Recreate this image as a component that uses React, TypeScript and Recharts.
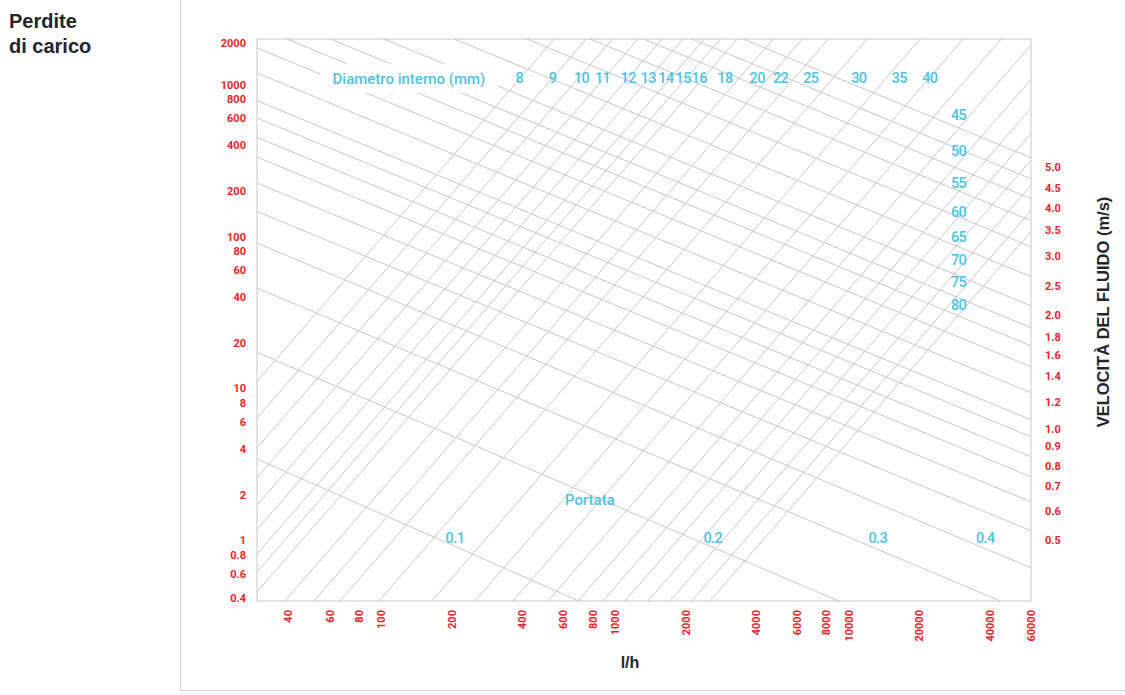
import React from 'react';
import { ComposedChart, Line, Scatter, XAxis, YAxis, ReferenceArea } from 'recharts';

const RED = '#e8232b';
const CYAN = '#4ec3df';
const GRID = '#c6c6c6';
const INK = '#23242e';

const Q_MIN = 29.3;
const Q_MAX = 60000;
const P_MIN = 0.4;
const P_MAX = 2000;

const flowTicks = [40, 60, 80, 100, 200, 400, 600, 800, 1000, 2000, 4000, 6000, 8000, 10000, 20000, 40000, 60000];
const lossTicks = [0.4, 0.6, 0.8, 1, 2, 4, 6, 8, 10, 20, 40, 60, 80, 100, 200, 400, 600, 800, 1000, 2000];

// diameter lines (mm): l/h where each crosses the bottom (0.4) and the top (2000) of the grid
const diameters = ['8', '9', '10', '11', '12', '13', '14', '15', '16', '18', '20', '22', '25', '30', '35', '40', '45', '50', '55', '60', '65', '70', '75', '80'];
const diamQAtBottom = [4.47, 6.12, 7.91, 10.2, 12.9, 15.9, 19.6, 22.9, 27.1, 38.6, 51.4, 66.4, 97.4, 164, 251, 365, 515, 692, 885, 1099, 1378, 1712, 2126, 2538];
const diamQAtTop = [548, 751, 971, 1252, 1583, 1951, 2405, 2810, 3323, 4736, 6307, 8147, 11950, 20120, 30780, 44760, 63150, 84870, 108550, 134800, 169100, 210100, 260900, 311400];
// where the diameter numbers sit
const diamLabelQ = [388, 539, 717, 882, 1135, 1382, 1646, 1952, 2284, 2942, 4045, 5092, 6862, 11010, 16370, 22150, 29390, 29390, 29390, 29390, 29390, 29390, 29390, 29390];
const diamLabelP = [1117, 1117, 1117, 1117, 1117, 1117, 1117, 1117, 1117, 1117, 1117, 1117, 1117, 1117, 1117, 1117, 634.8, 367.9, 225.4, 145.9, 99.4, 70.5, 50.3, 35.6];

// velocity lines (m/s): loss where each crosses the left (29.3 l/h) and right (60000 l/h) edges
const speeds = ['0.1', '0.2', '0.3', '0.4', '0.5', '0.6', '0.7', '0.8', '0.9', '1.0', '1.2', '1.4', '1.6', '1.8', '2.0', '2.5', '3.0', '3.5', '4.0', '4.5', '5.0'];
const speedPAtLeft = [3.44, 17.3, 45.9, 90.8, 146.6, 225.4, 334.4, 450.1, 603.9, 784.8, 1194.6, 1745, 2410, 3166, 4419, 6858, 10810, 16030, 22370, 30300, 41650];
const speedPAtRight = [0.0195, 0.115, 0.329, 0.661, 1.159, 1.798, 2.627, 3.558, 4.817, 6.233, 9.387, 13.92, 19.13, 25.15, 35.09, 54.48, 85.84, 127.3, 177.7, 240.6, 330.8];
// the low speeds are named inside the grid, the rest on the right axis
const speedLabelQ = [206, 2614, 13270, 38250];
const speedLabelP = [1.05, 1.05, 1.05, 1.05];
const rightSpeeds = speeds.slice(4);
const rightTicks = speedPAtRight.slice(4);

const notes = [
  { q: 130.9, p: 1095, text: 'Diametro interno (mm)', box: true },
  { q: 778, p: 1.854, text: 'Portata', box: false },
];

const diamLines = diameters.map((d, i) => ({
  name: d,
  pts: [{ q: diamQAtBottom[i], p: P_MIN }, { q: diamQAtTop[i], p: P_MAX }],
}));
const speedLines = speeds.map((s, i) => ({
  name: s,
  pts: [{ q: Q_MIN, p: speedPAtLeft[i] }, { q: Q_MAX, p: speedPAtRight[i] }],
}));
const labels = [
  ...notes,
  ...diameters.map((d, i) => ({ q: diamLabelQ[i], p: diamLabelP[i], text: d, box: false, num: true })),
  ...speedLabelQ.map((q, i) => ({ q, p: speedLabelP[i], text: speeds[i], box: false, num: true })),
];

const tickFont = { fontFamily: 'Roboto, sans-serif', fontSize: 11, fontWeight: 700 };

const LossTick = ({ x, y, payload }: any) => {
  const v = payload.value;
  const nudge = v === P_MAX ? 4 : v === P_MIN ? -3 : 0;
  return <text x={x} y={y + nudge} dy="0.35em" textAnchor="end" fill={RED} {...tickFont}>{String(v)}</text>;
};

const SpeedTick = ({ x, y, payload }: any) => {
  const i = rightTicks.indexOf(payload.value);
  return <text x={x} y={y + 9} dy="0.35em" textAnchor="start" fill={RED} {...tickFont}>{rightSpeeds[i]}</text>;
};

const FlowTick = ({ x, y, payload }: any) => (
  <text x={x} y={y} dy="0.35em" textAnchor="end" transform={`rotate(-90 ${x} ${y})`} fill={RED} {...tickFont}>
    {String(payload.value)}
  </text>
);

const LabelShape = ({ cx, cy, payload }: any) => (
  <g>
    {payload.box && <rect x={cx - 89} y={cy - 15} width={178} height={29} fill="#fff" />}
    <text x={cx} y={cy} dy="0.36em" textAnchor="middle" fill={CYAN}
      fontFamily="Roboto, sans-serif" fontSize={payload.num ? 14.5 : 15} fontWeight={500}
      letterSpacing={payload.num ? -0.6 : 0}>{payload.text}</text>
  </g>
);

export default function App() {
  return (
    <div style={{ position: 'absolute', left: 0, top: 0, width: 1125, height: 695, background: '#fff', fontFamily: '"Liberation Sans", Arial, sans-serif' }}>
      <div style={{ position: 'absolute', left: 180, top: -1, width: 946, height: 691, borderLeft: '1px solid #cfcfcf', borderBottom: '1px solid #cfcfcf' }} />
      <div style={{ position: 'absolute', left: 9, top: 9, fontSize: 20, lineHeight: '25px', fontWeight: 700, color: INK }}>
        Perdite<br />di carico
      </div>
      <div style={{ position: 'absolute', left: 0, top: 0 }}>
        <ComposedChart width={1125} height={695} margin={{ top: 39, right: 34, bottom: 34, left: 197 }}>
          <XAxis dataKey="q" type="number" scale="log" domain={[Q_MIN, Q_MAX]} allowDataOverflow
            ticks={flowTicks} interval={0} tick={<FlowTick />} tickLine={false} axisLine={false}
            tickSize={0} tickMargin={9} height={60} />
          <YAxis yAxisId="loss" dataKey="p" type="number" scale="log" domain={[P_MIN, P_MAX]} allowDataOverflow
            ticks={lossTicks} interval={0} tick={<LossTick />} tickLine={false} axisLine={false}
            tickSize={0} tickMargin={11} width={60} />
          <YAxis yAxisId="speed" orientation="right" dataKey="p" type="number" scale="log" domain={[P_MIN, P_MAX]} allowDataOverflow
            ticks={rightTicks} interval={0} tick={<SpeedTick />} tickLine={false} axisLine={false}
            tickSize={0} tickMargin={14} width={60} />
          <ReferenceArea yAxisId="loss" x1={Q_MIN} x2={Q_MAX} y1={P_MIN} y2={P_MAX} fill="none" stroke="#c8c8c8" strokeWidth={1} />
          {speedLines.map((l) => (
            <Line key={'v' + l.name} yAxisId="speed" data={l.pts} dataKey="p" type="linear" stroke={GRID}
              strokeWidth={1} dot={false} activeDot={false} isAnimationActive={false} />
          ))}
          {diamLines.map((l) => (
            <Line key={'d' + l.name} yAxisId="loss" data={l.pts} dataKey="p" type="linear" stroke={GRID}
              strokeWidth={1} dot={false} activeDot={false} isAnimationActive={false} />
          ))}
          <Scatter yAxisId="loss" data={labels} dataKey="p" shape={<LabelShape />} isAnimationActive={false} />
        </ComposedChart>
      </div>
      <div style={{ position: 'absolute', left: 600, top: 654, width: 60, textAlign: 'center', fontSize: 16, fontWeight: 700, color: INK }}>l/h</div>
      <div style={{ position: 'absolute', left: 1103, top: 312, width: 0, height: 0 }}>
        <div style={{ position: 'absolute', left: -150, top: -10, width: 300, lineHeight: '20px', textAlign: 'center', transform: 'rotate(-90deg)', fontSize: 16.5, fontWeight: 700, color: INK, whiteSpace: 'nowrap' }}>
          VELOCITÀ DEL FLUIDO (m/s)
        </div>
      </div>
    </div>
  );
}
